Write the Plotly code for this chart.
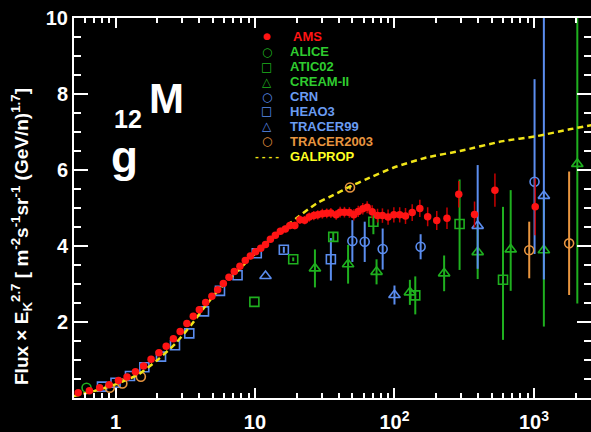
import plotly.graph_objects as go

# ---------------- data ----------------
ams_e = [0.54, 0.65, 0.77, 0.90, 1.05, 1.21, 1.39, 1.59, 1.80, 2.05, 2.31, 2.60, 2.91, 3.25,
         3.61, 3.99, 4.43, 4.91, 5.40, 5.93, 6.51, 7.11, 7.80, 8.52, 9.27, 10.1, 11.0, 11.9,
         12.9, 14.0, 15.2, 16.5, 17.8, 19.3, 21.0, 22.7, 24.5, 26.4, 28.2, 30.4, 32.7, 35.0,
         38.2, 40.8, 43.8, 47.5, 51.1, 55.0, 59.3, 63.7, 69.2, 75.6, 82.0, 90.0, 99.0, 109,
         120, 134, 152, 173, 201, 238, 289, 375, 525, 1021]
ams_f = [0.14, 0.19, 0.27, 0.35, 0.46, 0.55, 0.69, 0.84, 1.02, 1.19, 1.36, 1.56, 1.75, 1.96,
         2.15, 2.32, 2.51, 2.68, 2.85, 3.01, 3.18, 3.33, 3.47, 3.62, 3.74, 3.85, 3.94, 4.04,
         4.18, 4.28, 4.39, 4.45, 4.54, 4.54, 4.69, 4.68, 4.76, 4.80, 4.82, 4.85, 4.86, 4.87,
         4.82, 4.89, 4.89, 4.88, 4.82, 4.91, 4.98, 5.02, 4.90, 4.80, 4.80, 4.76, 4.82, 4.82,
         4.79, 4.88, 4.99, 4.77, 4.67, 4.73, 5.36, 4.83, 5.47, 5.03]
ams_err = [0.02, 0.02, 0.02, 0.02, 0.02, 0.02, 0.02, 0.02, 0.02, 0.03, 0.03, 0.03, 0.03, 0.03,
           0.03, 0.03, 0.03, 0.04, 0.04, 0.04, 0.04, 0.04, 0.04, 0.04, 0.04, 0.06, 0.07, 0.07,
           0.08, 0.08, 0.09, 0.09, 0.10, 0.10, 0.11, 0.11, 0.12, 0.12, 0.12, 0.13, 0.13, 0.13,
           0.13, 0.14, 0.14, 0.14, 0.15, 0.15, 0.15, 0.16, 0.17, 0.18, 0.19, 0.20, 0.20, 0.20,
           0.21, 0.22, 0.23, 0.25, 0.25, 0.28, 0.35, 0.34, 0.44, 0.75]

alice_e = [0.62]
alice_f = [0.27]

atic_e = [9.9, 18.8, 36.4, 70.6, 141, 293, 600]
atic_f = [2.53, 3.65, 4.24, 4.64, 2.70, 4.58, 3.11]
atic_ep = [0, 0.05, 0.13, 0.33, 0.50, 1.17, 1.92]
atic_em = [0, 0.05, 0.13, 0.33, 0.50, 1.21, 1.58]

cream_e = [26.9, 46.5, 74.4, 129, 227, 395, 681, 1178, 2046]
cream_f = [3.41, 3.52, 3.32, 2.78, 3.28, 3.84, 3.91, 3.89, 6.16]
cream_ep = [0.50, 0.51, 0.33, 0.33, 0.47, 0.70, 1.56, 1.40, 4.50]
cream_em = [0.50, 0.51, 0.33, 0.33, 0.47, 0.71, 1.09, 2.01, 3.67]

crn_e = [49.9, 61.2, 82.3, 154, 1010]
crn_f = [4.13, 4.11, 3.92, 3.98, 5.69]
crn_ep = [0.55, 0.53, 0.54, 0.33, 2.70]
crn_em = [0.55, 0.53, 0.54, 0.33, 1.90]

heao_e = [0.80, 1.0, 1.27, 1.61, 2.12, 2.67, 3.38, 4.31, 5.61, 7.5, 10.3, 16.1, 35.0]
heao_f = [0.30, 0.40, 0.58, 0.81, 1.09, 1.39, 1.70, 2.28, 2.82, 3.23, 3.81, 3.90, 3.65]
heao_err = [0, 0, 0, 0, 0, 0, 0, 0, 0, 0, 0, 0.08, 0.56]

tr99_e = [11.9, 100, 395, 1178]
tr99_f = [3.21, 2.71, 4.53, 5.32]
tr99_ep = [0, 0.25, 1.60, 5.00]
tr99_em = [0, 0.25, 1.13, 2.20]

tr03_e = [0.91, 1.12, 1.52, 48.0, 925, 1787]
tr03_f = [0.27, 0.38, 0.56, 5.54, 3.89, 4.07]
tr03_ep = [0, 0, 0, 0.05, 0.75, 1.89]
tr03_em = [0, 0, 0, 0.05, 0.74, 1.36]

galprop_e = [0.5, 0.7, 1.0, 1.46, 2.0, 2.67, 3.5, 4.26, 5.5, 7.4, 10, 14, 19.8, 27.6, 36.4,
             47.9, 63, 98, 170, 295, 600, 1040, 1800, 2600]
galprop_f = [0.05, 0.18, 0.36, 0.62, 1.00, 1.42, 1.93, 2.35, 2.85, 3.32, 3.80, 4.30, 4.73,
             5.12, 5.34, 5.56, 5.76, 6.06, 6.33, 6.50, 6.76, 6.89, 7.07, 7.18]

x_tickvals = [1, 10, 100, 1000]
x_ticktext = ["1", "10", "10<sup>2</sup>", "10<sup>3</sup>"]
y_tickvals = [2, 4, 6, 8, 10]

legend_names = ["AMS", "ALICE", "ATIC02", "CREAM-II", "CRN", "HEAO3", "TRACER99",
                "TRACER2003", "GALPROP"]

y_title = ("Flux × E<sub>K</sub><sup>2.7</sup> [ m<sup>-2</sup>s<sup>-1</sup>"
           "sr<sup>-1</sup> (GeV/n)<sup>1.7</sup>]")

# ---------------- styles ----------------
RED = "#ff1414"
RED_ERR = "#c80000"
GREEN = "#1fb01f"
GREEN_TXT = "#2fcc2f"
BLUE = "#5b8def"
BLUE_TXT = "#6a9cf2"
ORANGE = "#e8953f"
YELLOW = "#f0e418"
YELLOW_TXT = "#ffff22"
FONT = "Liberation Sans"

fig = go.Figure()


def add_set(e, f, ep, em, symbol, color, size=9):
    fig.add_trace(go.Scatter(
        x=e, y=f, mode="markers", showlegend=False,
        marker=dict(symbol=symbol, size=size, color=color, line=dict(color=color, width=1.6)),
        error_y=dict(type="data", symmetric=False, array=ep, arrayminus=em,
                     color=color, thickness=2, width=0),
    ))


add_set(heao_e, heao_f, heao_err, heao_err, "square-open", BLUE)
add_set(crn_e, crn_f, crn_ep, crn_em, "circle-open", BLUE)
add_set(alice_e, alice_f, [0], [0], "circle-open", GREEN)
add_set(atic_e, atic_f, atic_ep, atic_em, "square-open", GREEN)
add_set(cream_e, cream_f, cream_ep, cream_em, "triangle-up-open", GREEN, 10)
add_set(tr99_e, tr99_f, tr99_ep, tr99_em, "triangle-up-open", BLUE, 10)
add_set(tr03_e, tr03_f, tr03_ep, tr03_em, "circle-open", ORANGE)

fig.add_trace(go.Scatter(
    x=galprop_e, y=galprop_f, mode="lines", showlegend=False,
    line=dict(color=YELLOW, width=2.5, dash="6px,4px", shape="spline", smoothing=0.6),
))

fig.add_trace(go.Scatter(
    x=ams_e, y=ams_f, mode="markers", showlegend=False,
    marker=dict(symbol="circle", size=7.5, color=RED),
    error_y=dict(type="data", array=ams_err, color=RED_ERR, thickness=1.5, width=0),
))

# ---------------- layout ----------------
W, H = 591, 432
ML, MR, MT, MB = 74, 0, 18, 34


def px(x):
    return (x - ML) / (W - ML - MR)


def py(y):
    return (H - MB - y) / (H - MT - MB)


annotations = []
# legend (manual, coloured text like the reference)
leg_rows = [36, 52, 67, 81.5, 96.5, 111, 126, 141, 156]
leg_sym = ["●", "○", "□", "△", "○", "□", "△", "○", "- - - -"]
leg_sym_col = [RED, GREEN, GREEN, GREEN, BLUE, BLUE, BLUE, ORANGE, YELLOW]
leg_txt_col = [RED, GREEN_TXT, GREEN_TXT, GREEN_TXT, BLUE_TXT, BLUE_TXT, BLUE_TXT, ORANGE,
               YELLOW_TXT]
for i, name in enumerate(legend_names):
    sym = leg_sym[i]
    if sym.startswith("-"):
        annotations.append(dict(x=px(266.5), y=py(leg_rows[i]), xref="paper", yref="paper",
                                text="<b>" + sym + "</b>", showarrow=False, xanchor="center",
                                yanchor="middle",
                                font=dict(family=FONT, size=11, color=leg_sym_col[i])))
    else:
        annotations.append(dict(x=px(266.5), y=py(leg_rows[i]), xref="paper", yref="paper",
                                text=sym, showarrow=False, xanchor="center", yanchor="middle",
                                font=dict(family="DejaVu Sans",
                                          size=9 if i == 0 else 12, color=leg_sym_col[i])))
    annotations.append(dict(x=px(291 if i == 0 else 288), y=py(leg_rows[i]), xref="paper",
                            yref="paper", text="<b>" + name + "</b>", showarrow=False,
                            xanchor="left", yanchor="middle",
                            font=dict(family=FONT, size=13, color=leg_txt_col[i])))

# the "12 M g" label as it appears in the reference
annotations.append(dict(x=px(166), y=py(98), xref="paper", yref="paper", text="<b>M</b>",
                        showarrow=False, xanchor="center", yanchor="middle",
                        font=dict(family=FONT, size=42, color="white")))
annotations.append(dict(x=px(128), y=py(119), xref="paper", yref="paper", text="<b>12</b>",
                        showarrow=False, xanchor="center", yanchor="middle",
                        font=dict(family=FONT, size=25, color="white")))
annotations.append(dict(x=px(124), y=py(156), xref="paper", yref="paper", text="<b>g</b>",
                        showarrow=False, xanchor="center", yanchor="middle",
                        font=dict(family=FONT, size=44, color="white")))

# y-axis title (rotated)
annotations.append(dict(x=px(21), y=py(237), xref="paper", yref="paper", text=y_title,
                        textangle=-90, showarrow=False, xanchor="center", yanchor="middle",
                        font=dict(family=FONT, size=19, color="white", weight="bold")))

x_minor = [0.6, 0.7, 0.8, 0.9, 2, 3, 4, 5, 6, 7, 8, 9, 20, 30, 40, 50, 60, 70, 80, 90,
           200, 300, 400, 500, 600, 700, 800, 900, 2000]
y_minor = [0.5, 1, 1.5, 2.5, 3, 3.5, 4.5, 5, 5.5, 6.5, 7, 7.5, 8.5, 9, 9.5]

fig.update_layout(
    width=W, height=H,
    margin=dict(l=ML, r=MR, t=MT, b=MB, pad=0),
    paper_bgcolor="black", plot_bgcolor="black",
    font=dict(family=FONT, color="white"),
    showlegend=False,
    annotations=annotations,
    xaxis=dict(
        type="log", range=[-0.2975, 3.409],
        tickmode="array", tickvals=x_tickvals, ticktext=x_ticktext,
        ticks="inside", ticklen=10, tickwidth=2, tickcolor="white",
        showline=True, linecolor="white", linewidth=2, mirror="ticks",
        showgrid=False, zeroline=False, ticklabelstandoff=5,
        tickfont=dict(family=FONT, size=20, color="white", weight="bold"),
        minor=dict(tickmode="array", tickvals=x_minor, ticks="inside", ticklen=5,
                   tickwidth=2, tickcolor="white", showgrid=False),
        automargin=False,
    ),
    yaxis=dict(
        range=[0, 10],
        tickmode="array", tickvals=y_tickvals,
        ticks="inside", ticklen=14, tickwidth=2, tickcolor="white",
        showline=True, linecolor="white", linewidth=2, mirror="ticks",
        showgrid=False, zeroline=False,
        tickfont=dict(family=FONT, size=20, color="white", weight="bold"),
        minor=dict(tickmode="array", tickvals=y_minor, ticks="inside", ticklen=7,
                   tickwidth=2, tickcolor="white", showgrid=False),
        automargin=False,
    ),
)

fig.write_html("out.html")
